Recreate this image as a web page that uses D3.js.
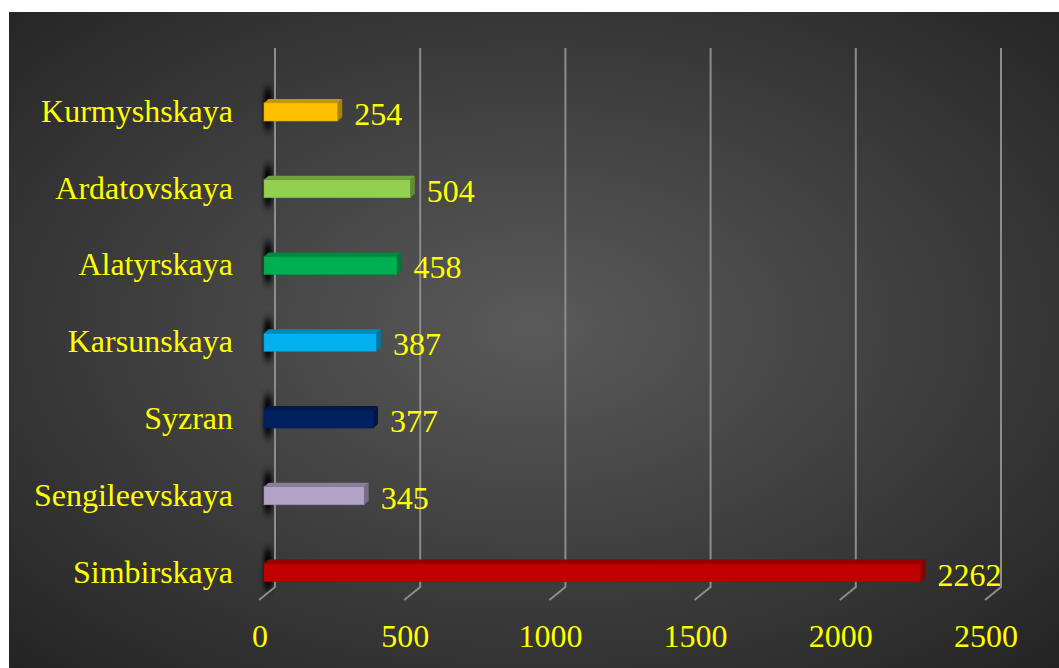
<!DOCTYPE html>
<html>
<head>
<meta charset="utf-8">
<script src="https://cdn.jsdelivr.net/npm/d3@7"></script>
<style>
  body { margin: 0; background: #fff; }
  svg { display: block; }
  text { font-family: "Liberation Serif", "Times New Roman", serif; fill: #ffff00; }
</style>
</head>
<body>
<svg width="1059" height="668"></svg>
<script>
const categories = ["Kurmyshskaya", "Ardatovskaya", "Alatyrskaya", "Karsunskaya", "Syzran", "Sengileevskaya", "Simbirskaya"];
const values     = [254, 504, 458, 387, 377, 345, 2262];
const colors     = ["#ffc000", "#92d050", "#00b050", "#00b0f0", "#002060", "#b3a2c7", "#c00000"];
const ticks      = [0, 500, 1000, 1500, 2000, 2500];

const svg = d3.select("svg");
const W = +svg.attr("width"), H = +svg.attr("height");

// 3D depth of the floor / back wall
const depthX = 15, depthY = 13;
const fontSize = 32;

const data = categories.map((c, i) => ({ name: c, value: values[i], color: colors[i] }));

const x = d3.scaleLinear()
  .domain([0, 2500])
  .range([260, 986]);

const y = d3.scaleBand()
  .domain(categories)
  .range([73.6, 610.9])
  .paddingInner(0.765)
  .paddingOuter(0.3825);

const defs = svg.append("defs");

const bg = defs.append("radialGradient")
  .attr("id", "bg")
  .attr("cx", "50%").attr("cy", "48%").attr("r", "72%");
bg.append("stop").attr("offset", "0%").attr("stop-color", "#5a5a5a");
bg.append("stop").attr("offset", "100%").attr("stop-color", "#242424");

defs.append("filter")
    .attr("id", "blur")
    .attr("x", "-200%").attr("y", "-50%").attr("width", "500%").attr("height", "200%")
  .append("feGaussianBlur")
    .attr("stdDeviation", "2 5");

svg.append("rect")
  .attr("x", 9).attr("y", 12)
  .attr("width", W - 9).attr("height", H - 12)
  .attr("fill", "url(#bg)");

// shadows cast on the back wall
svg.append("g")
  .selectAll("rect")
  .data(data)
  .join("rect")
    .attr("x", x(0) + 4)
    .attr("y", d => y(d.name) - 14)
    .attr("width", 8)
    .attr("height", y.bandwidth() + 22)
    .attr("rx", 3)
    .attr("fill", "#000")
    .attr("opacity", 0.95)
    .attr("filter", "url(#blur)");

// grid: back wall lines + floor ticks
const grid = svg.append("g")
    .attr("stroke", "#8c8c8c")
    .attr("stroke-width", 2)
    .attr("fill", "none");

grid.selectAll("path")
  .data(ticks)
  .join("path")
    .attr("d", t => {
      const bx = x(t) + depthX;
      return `M${bx},48 L${bx},587 L${bx - depthX - 1},${587 + depthY}`;
    });

// bars (front face, top, side)
const bx0 = 4, ddx = 4.5, ddy = 4;
const bars = svg.append("g").selectAll("g")
  .data(data)
  .join("g");

bars.append("rect")
  .attr("x", x(0) + bx0)
  .attr("y", d => y(d.name))
  .attr("width", d => x(d.value) - x(0))
  .attr("height", y.bandwidth())
  .attr("fill", d => d.color)
  .attr("stroke", d => d3.color(d.color).darker(0.4))
  .attr("stroke-width", 0.6);

bars.append("path")
  .attr("d", d => {
    const x1 = x(0) + bx0, x2 = x(d.value) + bx0, yt = y(d.name);
    return `M${x1},${yt} L${x2},${yt} L${x2 + ddx},${yt - ddy} L${x1 + ddx},${yt - ddy}Z`;
  })
  .attr("fill", d => d3.color(d.color).darker(0.7));

bars.append("path")
  .attr("d", d => {
    const x2 = x(d.value) + bx0, yt = y(d.name), yb = yt + y.bandwidth();
    return `M${x2},${yt} L${x2 + ddx},${yt - ddy} L${x2 + ddx},${yb - ddy} L${x2},${yb}Z`;
  })
  .attr("fill", d => d3.color(d.color).darker(1.1));

// value labels
svg.append("g").selectAll("text")
  .data(data)
  .join("text")
    .attr("x", d => x(d.value) + bx0 + ddx + 12)
    .attr("y", d => y(d.name) + y.bandwidth() / 2 + 13)
    .attr("font-size", fontSize)
    .text(d => d.value);

// category labels
svg.append("g").selectAll("text")
  .data(data)
  .join("text")
    .attr("x", 233)
    .attr("y", d => y(d.name) + y.bandwidth() / 2 + 10)
    .attr("text-anchor", "end")
    .attr("font-size", fontSize)
    .text(d => d.name);

// x tick labels
svg.append("g").selectAll("text")
  .data(ticks)
  .join("text")
    .attr("x", d => x(d))
    .attr("y", 647)
    .attr("text-anchor", "middle")
    .attr("font-size", fontSize)
    .text(d => d);
</script>
</body>
</html>
